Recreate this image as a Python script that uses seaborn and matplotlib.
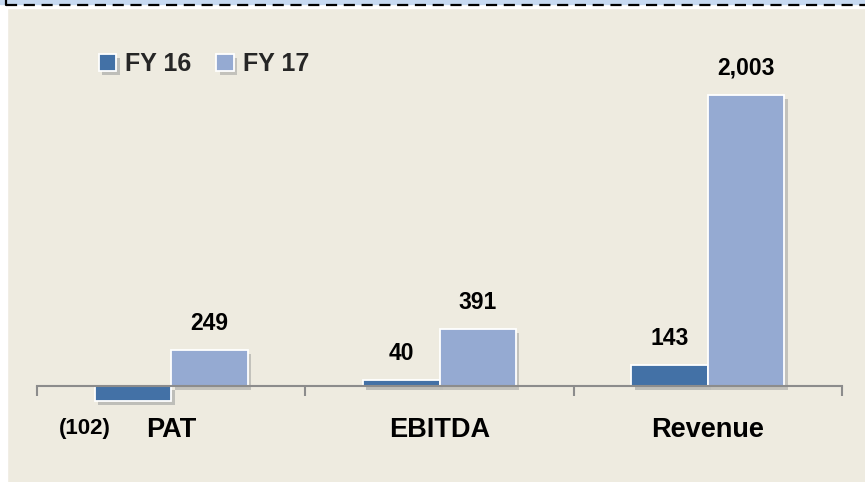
import matplotlib
matplotlib.use("Agg")
import matplotlib.pyplot as plt
import matplotlib.patheffects as pe
from matplotlib.patches import Rectangle
from matplotlib.lines import Line2D
import pandas as pd
import seaborn as sns

# data
categories = ["PAT", "EBITDA", "Revenue"]
fy16 = [-102, 40, 143]
fy17 = [249, 391, 2003]
series = ["FY 16", "FY 17"]
colors = ["#4371A6", "#95AAD2"]

df = pd.DataFrame({
    "metric": categories * 2,
    "value": fy16 + fy17,
    "year": [series[0]] * 3 + [series[1]] * 3,
})

sns.set_theme(style="white")
plt.rcParams["font.family"] = ["Liberation Sans", "DejaVu Sans"]

bg = "#EEEBE0"
fig = plt.figure(figsize=(8.65, 4.82), dpi=100, facecolor=bg)
W, H = 865, 482

# frame decoration: blue strip, dashed line, white margins
fig.patches.append(Rectangle((0, 0), 7 / W, 1, transform=fig.transFigure, color="white", zorder=0))
fig.patches.append(Rectangle((0, 1 - 8 / H), 1, 8 / H, transform=fig.transFigure, color="white", zorder=0))
fig.patches.append(Rectangle((0, 1 - 4 / H), 1, 4 / H, transform=fig.transFigure, color="#C6D9F1", zorder=1))
fig.lines.append(Line2D([6 / W, 1], [1 - 5.2 / H] * 2, transform=fig.transFigure,
                        color="black", lw=1.6, ls=(0, (5, 3)), zorder=2))
fig.lines.append(Line2D([6 / W] * 2, [1 - 5.2 / H, 1], transform=fig.transFigure,
                        color="black", lw=1.6, zorder=2))

# axes placed so that zero sits at y=386 px, categories span 37..842 px
ylo, yhi = -500, 2300
ax = fig.add_axes([37 / W, 0.0483, 805 / W, 0.8442])
ax.set_facecolor("none")

sns.barplot(data=df, x="metric", y="value", hue="year", order=categories,
            hue_order=series, palette=colors, width=0.57, gap=0,
            edgecolor="white", linewidth=1.3, saturation=1, ax=ax, zorder=3)

for bar in ax.patches:
    bar.set_path_effects([pe.SimplePatchShadow(offset=(2.5, -3), alpha=0.22), pe.Normal()])

ax.set_xlim(-0.5, 2.5)
ax.set_ylim(ylo, yhi)

for sp in ["top", "right", "left"]:
    ax.spines[sp].set_visible(False)
ax.spines["bottom"].set_position(("data", 0))
ax.spines["bottom"].set_color("#8C8C8C")
ax.spines["bottom"].set_linewidth(1.5)
ax.spines["bottom"].set_zorder(4)
ax.set_yticks([])
ax.set_xlabel("")
ax.set_ylabel("")

ax.set_xticks([-0.5, 0.5, 1.5, 2.5])
ax.set_xticklabels([])
ax.tick_params(axis="x", which="major", bottom=True, length=7.5, width=1.5,
               color="#8C8C8C", direction="out")
ax.set_xticks(range(len(categories)), minor=True)
ax.set_xticklabels(categories, minor=True, fontsize=19.5, fontweight="bold", color="black")
ax.tick_params(axis="x", which="minor", bottom=True, length=0, pad=22)

# value labels
for cont in ax.containers:
    for bar, v in zip(cont, cont.datavalues):
        if v >= 0:
            ax.annotate(f"{v:,.0f}", (bar.get_x() + bar.get_width() / 2, v),
                        xytext=(0, 11), textcoords="offset points", ha="center", va="bottom",
                        fontsize=16.5, fontweight="bold", color="black")
        else:
            ax.annotate(f"({abs(v):,.0f})", (bar.get_x(), v),
                        xytext=(-7, -20), textcoords="offset points", ha="center", va="center",
                        fontsize=16, fontweight="bold", color="black")

handles, labels = ax.get_legend_handles_labels()
ax.legend(handles, labels, loc="center left", bbox_to_anchor=(0.077, 0.97), ncol=2,
          frameon=False, borderpad=0, borderaxespad=0, handlelength=0.7, handleheight=0.7,
          handletextpad=0.35, columnspacing=1.0,
          prop={"family": ["Liberation Sans", "DejaVu Sans"], "weight": "bold", "size": 18})

fig.savefig("out.png", dpi=100, facecolor=bg)
